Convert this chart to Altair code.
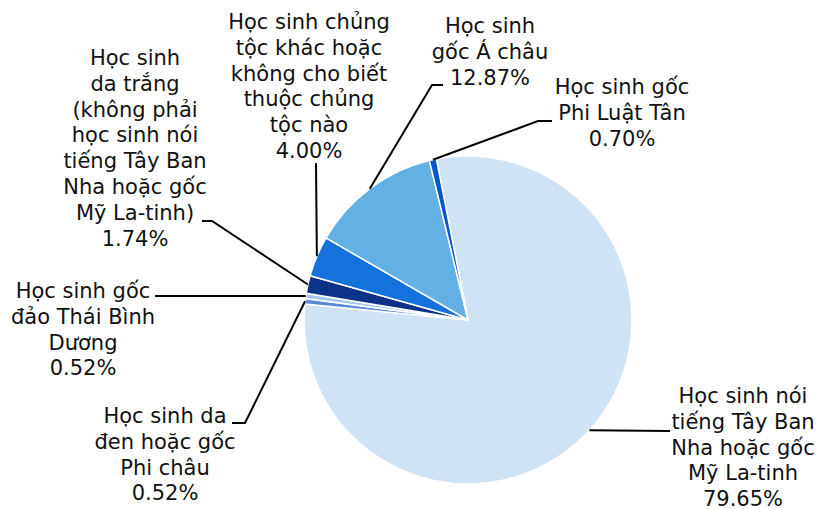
import math
import altair as alt
import pandas as pd

# ---- data ----
categories = [
    "Học sinh nói\ntiếng Tây Ban\nNha hoặc gốc\nMỹ La-tinh",
    "Học sinh da\nđen hoặc gốc\nPhi châu",
    "Học sinh gốc\nđảo Thái Bình\nDương",
    "Học sinh\nda trắng\n(không phải\nhọc sinh nói\ntiếng Tây Ban\nNha hoặc gốc\nMỹ La-tinh)",
    "Học sinh chủng\ntộc khác hoặc\nkhông cho biết\nthuộc chủng\ntộc nào",
    "Học sinh\ngốc Á châu",
    "Học sinh gốc\nPhi Luật Tân",
]
values = [79.65, 0.52, 0.52, 1.74, 4.00, 12.87, 0.70]
colors = ["#d0e3f5", "#5a8cd6", "#a3cbf3", "#0b3489", "#1572dd", "#63b1e4", "#0b55c9"]

# ---- layout (page pixels) ----
M = 8
CX, CY, R = 468, 320, 164
START = math.radians(-11.1)
# centre x of label block, centre y of its first line
label_pos = [(743, 397), (165, 417), (83, 292), (135, 59), (309, 23), (490, 27), (622, 88)]
leader_pts = [
    [(670, 431)],
    [(232, 423), (245, 423)],
    [(155, 296)],
    [(202, 221), (212, 221)],
    [(316, 163)],
    [(443, 85), (432, 85)],
    [(552, 121), (538, 121)],
]

total = sum(values)
df = pd.DataFrame({"cat": categories, "value": values, "ord": list(range(len(values)))})
df["label"] = [f"{c}\n{v:.2f}%" for c, v in zip(categories, values)]
df["lx"] = [p[0] - M for p in label_pos]
df["ly"] = [p[1] - M for p in label_pos]

rows = []
cum = 0.0
for i, (c, v) in enumerate(zip(categories, values)):
    mid = START + 2 * math.pi * (cum + v / 2) / total
    cum += v
    pts = leader_pts[i] + [(CX + R * math.sin(mid), CY - R * math.cos(mid))]
    for j, (px, py) in enumerate(pts):
        rows.append({"cat": c, "seq": j, "x": px - M, "y": py - M})
lines_df = pd.DataFrame(rows)

pie = alt.Chart(df).mark_arc(outerRadius=R, stroke="white", strokeWidth=1.5).encode(
    theta=alt.Theta("value:Q", stack=True, scale=alt.Scale(range=[START, START + 2 * math.pi])),
    color=alt.Color("cat:N", scale=alt.Scale(domain=categories, range=colors), legend=None),
    order=alt.Order("ord:Q"),
    x=alt.value(CX - M),
    y=alt.value(CY - M),
)

leaders = alt.Chart(lines_df).mark_line(color="black", strokeWidth=2).encode(
    x=alt.X("x:Q", scale=None, axis=None),
    y=alt.Y("y:Q", scale=None, axis=None),
    detail="cat:N",
    order="seq:Q",
)

labels = alt.Chart(df).mark_text(
    lineBreak="\n", font="DejaVu Sans", fontSize=21, lineHeight=25.8,
    align="center", baseline="middle", color="#111111",
).encode(
    x=alt.X("lx:Q", scale=None, axis=None),
    y=alt.Y("ly:Q", scale=None, axis=None),
    text="label:N",
)

chart = alt.layer(pie, leaders, labels).properties(
    width=806, height=501, padding=0, autosize=alt.AutoSizeParams(type="none"),
).configure_view(stroke=None)

chart.save("out.html", embed_options={"renderer": "svg", "actions": False})
